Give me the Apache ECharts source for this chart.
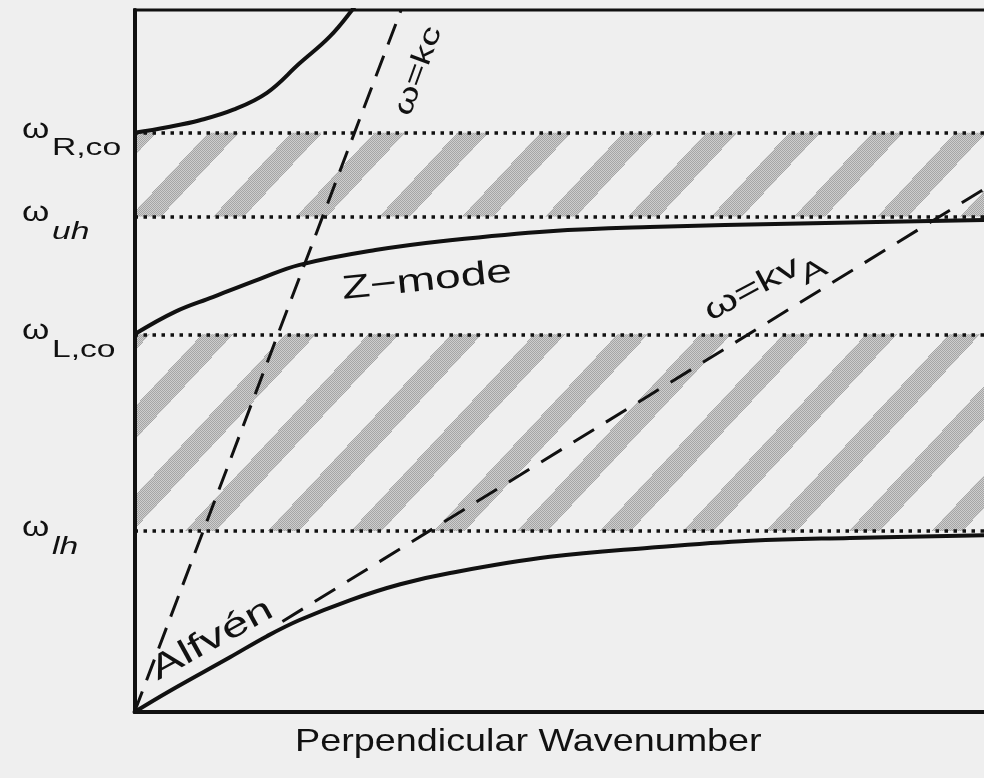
<!DOCTYPE html>
<html>
<head>
<meta charset="utf-8">
<script src="https://cdn.jsdelivr.net/npm/echarts@6/dist/echarts.min.js"></script>
<style>
html,body{margin:0;padding:0;background:#efefef;}
#chart{width:984px;height:778px;}
</style>
</head>
<body>
<div id="chart"></div>
<script>
// ---------- data ----------
const levelNames = ['R,co', 'uh', 'L,co', 'lh'];
const levelItalic = [false, true, false, true];
const levelValues = [82.5, 70.6, 53.8, 25.8];

const rModeK = [0, 3.8, 7.6, 11.5, 15.4, 19.2, 22.7, 25.3, 26.8];
const rModeW = [82.5, 83.3, 84.3, 85.8, 88.2, 92.4, 96.2, 100, 102.6];

const zModeK = [0, 4.7, 9.1, 14.6, 19.2, 28.0, 36.7, 48.3, 59.9, 77.4, 100];
const zModeW = [53.8, 57.0, 59.1, 61.7, 63.7, 65.8, 67.2, 68.5, 69.1, 69.6, 70.1];

const alfvenK = [0, 4.1, 11.1, 15.4, 19.2, 25.1, 30.9, 36.7, 48.3, 59.9, 71.6, 83.2, 100];
const alfvenW = [0, 3.0, 7.8, 10.8, 13.1, 15.95, 18.2, 19.8, 22.1, 23.4, 24.4, 24.8, 25.2];

const kcK = [0, 31.0];
const kcW = [0, 100];

const kvaK = [17.2, 100];
const kvaW = [12.9, 75.4];

const axisTitle = 'Perpendicular Wavenumber';
const annTexts = ['Z\u2212mode', '\u03c9=kc', 'Alfv\u00e9n'];
const kvaMain = '\u03c9=kv';
const kvaSub = 'A';

// ---------- helpers ----------
const zip = (xs, ys) => xs.map((x, i) => [x, ys[i]]);
const FONT = "'Liberation Sans', Arial, Helvetica, sans-serif";
const INK = '#111';

function makeHatch(phase) {
  const P = 83, H = 89, W2 = 166, H2 = 178, w = 31;
  const c = document.createElement('canvas');
  c.width = W2; c.height = H2;
  const ctx = c.getContext('2d');
  const img = ctx.createImageData(W2, H2);
  for (let y = 0; y < H2; y++) {
    for (let x = 0; x < W2; x++) {
      let C = (x + y * P / H - phase) % P;
      if (C < 0) C += P;
      const i = (y * W2 + x) * 4;
      if (C < w) {
        const v = ((x + y) % 2 === 0) ? 165 : 205;
        img.data[i] = v; img.data[i + 1] = v; img.data[i + 2] = v; img.data[i + 3] = 255;
      } else {
        img.data[i + 3] = 0;
      }
    }
  }
  ctx.putImageData(img, 0, 0);
  return c;
}

const chart = echarts.init(document.getElementById('chart'), null, { renderer: 'canvas' });

const solid = { color: INK, width: 4 };
const option = {
  backgroundColor: '#efefef',
  animation: false,
  grid: {
    left: 134.5, top: 10, width: 860, height: 702, show: true,
    borderColor: INK, borderWidth: 3, backgroundColor: 'transparent',
    outerBoundsMode: 'none', containLabel: false
  },
  xAxis: {
    type: 'value', min: 0, max: 100, z: 10,
    axisLine: { show: true, onZero: false, lineStyle: { color: INK, width: 4 } },
    axisTick: { show: false }, axisLabel: { show: false }, splitLine: { show: false }
  },
  yAxis: {
    type: 'value', min: 0, max: 100, z: 10,
    axisLine: { show: true, onZero: false, lineStyle: { color: INK, width: 4 } },
    axisTick: { show: false }, axisLabel: { show: false }, splitLine: { show: false }
  },
  series: [
    {
      type: 'line', data: [], z: 1, silent: true,
      markArea: {
        silent: true,
        data: [
          [{ xAxis: 'min', yAxis: levelValues[1], itemStyle: { color: { image: makeHatch(82), repeat: 'repeat' } } },
           { xAxis: 'max', yAxis: levelValues[0] }],
          [{ xAxis: 'min', yAxis: levelValues[3], itemStyle: { color: { image: makeHatch(15), repeat: 'repeat' } } },
           { xAxis: 'max', yAxis: levelValues[2] }]
        ]
      }
    },
    {
      type: 'line', data: [], z: 3, silent: true,
      markLine: {
        silent: true, symbol: ['none', 'none'], label: { show: false },
        lineStyle: { color: INK, width: 3.5, type: [3.5, 5.5], cap: 'butt' },
        data: levelValues.map(v => ({ yAxis: v }))
      }
    },
    { type: 'line', data: zip(rModeK, rModeW), smooth: 0.4, showSymbol: false, lineStyle: solid, z: 4, clip: true },
    { type: 'line', data: zip(zModeK, zModeW), smooth: 0.4, showSymbol: false, lineStyle: solid, z: 4 },
    { type: 'line', data: zip(alfvenK, alfvenW), smooth: 0.4, showSymbol: false, lineStyle: solid, z: 4 },
    { type: 'line', data: zip(kcK, kcW), showSymbol: false, lineStyle: { color: INK, width: 3, type: [22, 12] }, z: 4 },
    { type: 'line', data: zip(kvaK, kvaW), showSymbol: false, lineStyle: { color: INK, width: 3, type: [24, 14] }, z: 4 }
  ]
};
chart.setOption(option);

// ---------- text annotations positioned through the chart's coordinate system ----------
const toPx = (x, y) => chart.convertToPixel({ gridIndex: 0 }, [x, y]);
const measure = (txt, size) => {
  const c = document.createElement('canvas').getContext('2d');
  c.font = size + 'px ' + FONT;
  return c.measureText(txt).width;
};
const deg = d => d * Math.PI / 180;
const graphics = [];

// level labels (omega + subscript)
levelValues.forEach((v, i) => {
  const py = toPx(0, v)[1];
  graphics.push({
    type: 'text', x: 22, y: py - 3, scaleX: 1.25, z: 20,
    style: { text: '\u03c9', font: '28px ' + FONT, fill: INK, align: 'left', verticalAlign: 'middle' }
  });
  graphics.push({
    type: 'text', x: 52, y: py + 16, scaleX: 1.4, z: 20,
    style: { text: levelNames[i], font: (levelItalic[i] ? 'italic ' : '') + '24px ' + FONT, fill: INK, align: 'left', verticalAlign: 'middle' }
  });
});

// axis title
const bottomY = toPx(0, 0)[1];
const midX = toPx(45.8, 0)[0];
graphics.push({
  type: 'text', x: midX, y: bottomY + 30, scaleX: 1.18, z: 20,
  style: { text: axisTitle, font: '32px ' + FONT, fill: INK, align: 'center', verticalAlign: 'middle' }
});

// curve annotations: [text index, k, w, rotation deg, font size, scaleX]
const annLayout = [
  [0, 34.0, 61.4, 6, 33, 1.4],
  [1, 33.0, 91.3, 70, 28, 1.4],
  [2, 9.0, 10.3, 29, 34, 1.42]
];
annLayout.forEach(([ti, k, w, rot, fs, sx]) => {
  const p = toPx(k, w);
  graphics.push({
    type: 'text', x: p[0], y: p[1], rotation: deg(rot), scaleX: sx, z: 20,
    style: { text: annTexts[ti], font: fs + 'px ' + FONT, fill: INK, align: 'center', verticalAlign: 'middle' }
  });
});

// ω=kv_A
(function () {
  const fs = 31, fsSub = 28;
  const m = measure(kvaMain, fs), s = measure(kvaSub, fsSub);
  const total = m + s;
  const p = toPx(73.4, 60.6);
  graphics.push({
    type: 'group', x: p[0], y: p[1], rotation: deg(28), scaleX: 1.42, z: 20,
    children: [
      { type: 'text', x: -total / 2, y: -4, z: 20, style: { text: kvaMain, font: fs + 'px ' + FONT, fill: INK, align: 'left', verticalAlign: 'middle' } },
      { type: 'text', x: -total / 2 + m - 2, y: 10, z: 20, style: { text: kvaSub, font: fsSub + 'px ' + FONT, fill: INK, align: 'left', verticalAlign: 'middle' } }
    ]
  });
})();

chart.setOption({ graphic: graphics });
</script>
</body>
</html>
